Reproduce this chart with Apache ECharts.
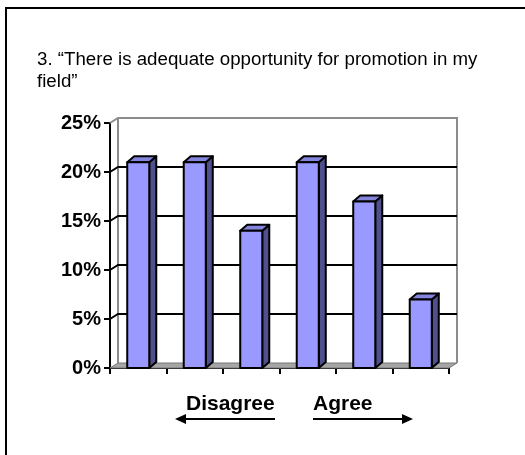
<!DOCTYPE html>
<html>
<head>
<meta charset="utf-8">
<script src="https://cdn.jsdelivr.net/npm/echarts@6/dist/echarts.min.js"></script>
<style>
html,body{margin:0;padding:0;background:#fff;}
#chart{width:525px;height:455px;}
</style>
</head>
<body>
<div id="chart"></div>
<script>
var categories = ['1', '2', '3', '4', '5', '6'];
var values = [21, 21, 14, 21, 17, 7];
var gridValues = [5, 10, 15, 20];
var titleText = '3. \u201cThere is adequate opportunity for promotion in my\nfield\u201d';

var DX = 8, DY = -5;       // wall depth
var BDX = 7, BDY = -6;     // bar depth

var chart = echarts.init(document.getElementById('chart'), null, {renderer: 'canvas'});

function renderWalls(params, api) {
  if (params.dataIndex !== 0) return null;
  var cs = params.coordSys;
  var x0 = cs.x, y0 = cs.y, w = cs.width, h = cs.height;
  var children = [];
  var gray = '#8c8c8c';
  children.push({type: 'polygon', shape: {points: [[x0, y0 + h], [x0 + w, y0 + h], [x0 + w + DX, y0 + h + DY], [x0 + DX, y0 + h + DY]]},
    style: {fill: '#a6a6a6', stroke: '#777', lineWidth: 1}});
  children.push({type: 'polyline', shape: {points: [[x0, y0], [x0 + DX, y0 + DY], [x0 + w + DX, y0 + DY], [x0 + w + DX, y0 + h + DY]]},
    style: {fill: null, stroke: gray, lineWidth: 2}});
  children.push({type: 'line', shape: {x1: x0 + DX, y1: y0 + DY, x2: x0 + DX, y2: y0 + h + DY},
    style: {stroke: gray, lineWidth: 2}});
  gridValues.forEach(function (v) {
    var y = api.coord([0, v])[1];
    children.push({type: 'polyline', shape: {points: [[x0, y], [x0 + DX, y + DY], [x0 + w + DX, y + DY]]},
      style: {fill: null, stroke: '#000', lineWidth: 2}});
  });
  return {type: 'group', children: children};
}

function renderBar(params, api) {
  var i = api.value(0);
  var top = api.coord([i, api.value(1)]);
  var bot = api.coord([i, 0]);
  var bw = api.size([1, 0])[0] * 0.39;
  var l = top[0] - bw / 2, r = top[0] + bw / 2, t = top[1], b = bot[1];
  var stroke = {stroke: '#000', lineWidth: 2, lineJoin: 'round'};
  return {type: 'group', children: [
    {type: 'polygon', shape: {points: [[r, t], [r + BDX, t + BDY], [r + BDX, b + BDY], [r, b]]},
      style: Object.assign({fill: '#50508c'}, stroke)},
    {type: 'polygon', shape: {points: [[l, t], [l + BDX, t + BDY], [r + BDX, t + BDY], [r, t]]},
      style: Object.assign({fill: '#8484dc'}, stroke)},
    {type: 'rect', shape: {x: l, y: t, width: r - l, height: b - t},
      style: Object.assign({fill: '#9999ff'}, stroke)}
  ]};
}

function arrow(x1, x2, y) {
  var dir = x2 > x1 ? 1 : -1;
  return [
    {type: 'line', shape: {x1: x1, y1: y, x2: x2 - dir * 8, y2: y}, style: {stroke: '#000', lineWidth: 2}},
    {type: 'polygon', shape: {points: [[x2, y], [x2 - dir * 11, y - 5], [x2 - dir * 11, y + 5]]}, style: {fill: '#000'}}
  ];
}

var option = {
  animation: false,
  backgroundColor: '#fff',
  title: {
    text: titleText,
    left: 32, top: 44,
    textStyle: {fontFamily: 'Liberation Sans, Arial, sans-serif', fontSize: 18.7, fontWeight: 'normal', color: '#000', lineHeight: 22}
  },
  grid: {left: 110, right: 76, top: 123, bottom: 87},
  xAxis: {
    type: 'category', data: categories,
    axisLine: {lineStyle: {color: '#000', width: 2}},
    axisTick: {show: true, length: 6, lineStyle: {color: '#000', width: 2}},
    axisLabel: {show: false}
  },
  yAxis: {
    type: 'value', min: 0, max: 25, interval: 5,
    axisLine: {show: true, lineStyle: {color: '#000', width: 2}},
    axisTick: {show: true, length: 6, lineStyle: {color: '#000', width: 2}},
    axisLabel: {formatter: '{value}%', fontFamily: 'Liberation Sans, Arial, sans-serif', fontSize: 20, fontWeight: 'bold', color: '#000', margin: 9},
    splitLine: {show: false}
  },
  series: [
    {type: 'custom', renderItem: renderWalls, data: [[0, 0]], z: 1, silent: true},
    {type: 'custom', renderItem: renderBar, data: values.map(function (v, i) { return [i, v]; }), z: 3}
  ],
  graphic: [
    {type: 'line', shape: {x1: 6, y1: 8, x2: 525, y2: 8}, style: {stroke: '#000', lineWidth: 2}},
    {type: 'line', shape: {x1: 6, y1: 7, x2: 6, y2: 455}, style: {stroke: '#000', lineWidth: 2}},
    {type: 'text', left: 186, top: 394, style: {text: 'Disagree', font: 'bold 21px "Liberation Sans", Arial, sans-serif', fill: '#000'}},
    {type: 'text', left: 313, top: 394, style: {text: 'Agree', font: 'bold 21px "Liberation Sans", Arial, sans-serif', fill: '#000'}}
  ].concat(arrow(275, 175, 419)).concat(arrow(313, 413, 419))
};
chart.setOption(option);
</script>
</body>
</html>
